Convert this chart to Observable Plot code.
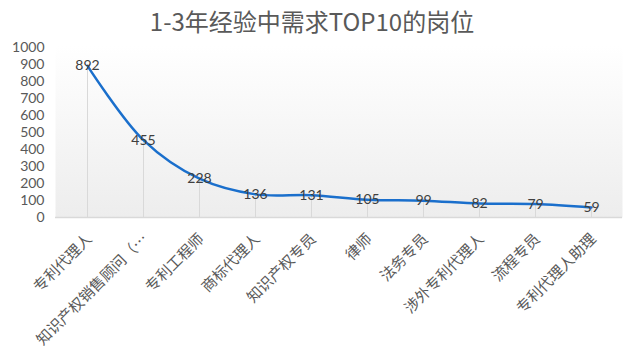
<!DOCTYPE html>
<html><head><meta charset="utf-8">
<script src="https://cdn.jsdelivr.net/npm/d3@7"></script>
<script src="https://cdn.jsdelivr.net/npm/@observablehq/plot@0.6"></script>
<style>body{margin:0;background:#fff;}</style>
</head><body><div id="chart"></div>
<script>
const title = "1-3年经验中需求TOP10的岗位";
const categories = ["专利代理人","知识产权销售顾问（…","专利工程师","商标代理人","知识产权专员","律师","法务专员","涉外专利代理人","流程专员","专利代理人助理"];
const values = [892,455,228,136,131,105,99,82,79,59];
const yTicks = [0,100,200,300,400,500,600,700,800,900,1000];

const data = categories.map((c, i) => ({job: c, count: values[i]}));
const font = "'Noto Sans CJK SC', 'Noto Sans', sans-serif";

const chart = Plot.plot({
  width: 625, height: 363,
  marginTop: 47, marginBottom: 146, marginLeft: 55, marginRight: 3,
  style: {fontFamily: font, background: "#fff", overflow: "visible"},
  x: {type: "point", domain: categories, padding: 0.5},
  y: {domain: [0, 1000]},
  marks: [
    Plot.frame({fill: "url(#bg)", stroke: null, insetTop: -2}),
    Plot.ruleX(data, {x: "job", y1: 0, y2: "count", stroke: "#d9d9d9", strokeWidth: 1}),
    Plot.ruleY([0], {stroke: "#d9d9d9", strokeWidth: 1.5}),
    Plot.axisY({ticks: yTicks, tickFormat: d3.format("d"), tickSize: 0, tickPadding: 11, fontSize: 14, fontFamily: "Lato, sans-serif", fill: "#595959", label: null}),
    Plot.axisX({tickRotate: -45, tickSize: 0, tickPadding: 10, dy: 9, dx: 2, fontSize: 15, fill: "#595959", label: null}),
    Plot.line(data, {x: "job", y: "count", curve: "catmull-rom", stroke: "#1a6fcc", strokeWidth: 2.5}),
    Plot.text(data, {x: "job", y: "count", text: d => String(d.count), fill: "#404040", fontSize: 14, fontFamily: "Lato, sans-serif"}),
    Plot.text([title], {frameAnchor: "top", dy: -34, dx: -27, text: d => d, fontSize: 24, fill: "#595959"})
  ]
});

const defs = d3.select(chart).insert("defs", ":first-child");
const g = defs.append("linearGradient").attr("id", "bg").attr("x1", 0).attr("y1", 0).attr("x2", 0).attr("y2", 1);
g.append("stop").attr("offset", "0%").attr("stop-color", "#ffffff");
g.append("stop").attr("offset", "100%").attr("stop-color", "#ededed");

document.getElementById("chart").append(chart);
</script>
</body></html>
